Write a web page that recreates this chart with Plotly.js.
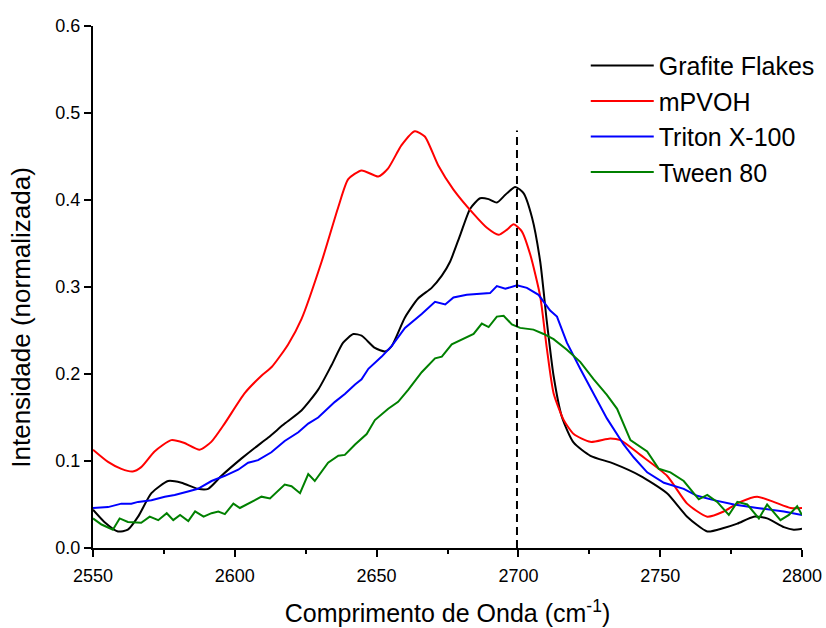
<!DOCTYPE html>
<html>
<head>
<meta charset="utf-8">
<script src="https://cdn.plot.ly/plotly-3.0.1.min.js"></script>
<style>html,body{margin:0;padding:0;background:#fff;}#chart{width:826px;height:628px;}</style>
</head>
<body>
<div id="chart"></div>
<script>
// Grafite Flakes (black)
const grafiteX = [2550,2554,2558.8,2562.3,2565.9,2570.6,2576.5,2581.2,2587,2590.6,2595.3,2602.4,2607,2611.8,2617.6,2623.5,2629.4,2634.1,2638.2,2641.8,2644.7,2649.4,2653,2655.3,2660,2664.7,2669.4,2673,2675.9,2679.5,2683,2686.5,2689.5,2692.4,2695.4,2698.9,2701.8,2704.8,2707.7,2710,2712.4,2715.4,2719.5,2725.4,2733.6,2743,2752.4,2759.5,2766.6,2772.4,2777.2,2783,2787.7,2793.6,2797.1,2800];
const grafiteY = [0.044,0.030,0.019,0.021,0.036,0.063,0.077,0.075,0.068,0.068,0.083,0.103,0.115,0.127,0.143,0.158,0.182,0.210,0.236,0.246,0.244,0.230,0.226,0.232,0.265,0.287,0.299,0.313,0.329,0.360,0.390,0.402,0.401,0.397,0.406,0.415,0.408,0.380,0.329,0.261,0.198,0.150,0.121,0.106,0.097,0.083,0.063,0.036,0.019,0.023,0.028,0.036,0.034,0.024,0.021,0.022];

// mPVOH (red)
const mpvohX = [2550,2555.3,2560,2564,2567,2571.7,2577.6,2582,2587.6,2591.7,2596.4,2603.5,2609.4,2613,2618.8,2623.5,2630.6,2636.5,2640,2644.7,2650.6,2654,2658.8,2663.5,2667,2671.7,2677.1,2684.2,2688.9,2693,2696,2698.3,2701.2,2704.2,2707.7,2710,2712.4,2716,2719.5,2725.4,2732.4,2736,2743,2752.4,2759.5,2766.6,2772.4,2778.3,2784.2,2790,2796,2800];
const mpvohY = [0.113,0.099,0.091,0.088,0.093,0.111,0.124,0.121,0.113,0.122,0.143,0.178,0.198,0.208,0.234,0.263,0.329,0.392,0.424,0.434,0.427,0.436,0.463,0.479,0.473,0.440,0.412,0.384,0.368,0.360,0.366,0.372,0.364,0.337,0.289,0.230,0.178,0.147,0.131,0.122,0.126,0.124,0.107,0.083,0.051,0.036,0.042,0.053,0.059,0.053,0.046,0.046];

// Triton X-100 (blue)
const tritonX = [2550,2555.3,2560,2563.5,2565.9,2570.6,2575.3,2578.8,2583.5,2587,2591.8,2596.5,2601.2,2604.7,2608.2,2612.9,2617.6,2622.4,2625.9,2629.4,2635.3,2638.8,2642.4,2644.7,2647.1,2651.8,2655.3,2660,2665.9,2670.6,2674.2,2677.1,2681.8,2690,2692.4,2695.4,2699.5,2703,2707.1,2711.2,2713.6,2717.1,2721.8,2726.5,2731.2,2737.1,2740.7,2745.4,2751.3,2758.3,2763,2768.9,2776,2784.2,2793.6,2800];
const tritonY = [0.046,0.047,0.051,0.051,0.053,0.055,0.059,0.061,0.065,0.068,0.077,0.083,0.090,0.098,0.101,0.110,0.123,0.133,0.143,0.150,0.168,0.177,0.188,0.194,0.206,0.220,0.232,0.253,0.269,0.283,0.280,0.288,0.291,0.293,0.301,0.298,0.302,0.299,0.291,0.273,0.266,0.236,0.206,0.178,0.149,0.119,0.104,0.087,0.075,0.068,0.060,0.055,0.050,0.046,0.042,0.038];

// Tween 80 (green)
const tweenX = [2550,2553,2557,2559.4,2562.3,2567,2570,2573,2576,2578.3,2580.7,2583.6,2586,2589,2591.8,2594.2,2596.5,2599.5,2601.8,2604.7,2609.4,2612.4,2617.6,2620,2623,2625.9,2628.2,2632.9,2636.5,2638.8,2642.4,2646.5,2649.4,2654.1,2657.6,2661.2,2665.9,2670.6,2673,2676.5,2680.6,2684.2,2687.1,2689.5,2692.4,2694.8,2697.7,2700.6,2705.3,2708.9,2712.4,2717.1,2721.8,2726.5,2731.2,2734.8,2739.5,2745.4,2749.5,2753.6,2758.3,2763.6,2766.6,2770.1,2774.2,2777.2,2780.7,2784.8,2787.7,2792.4,2795.4,2798.3,2800];
const tweenY = [0.034,0.027,0.021,0.034,0.030,0.029,0.036,0.032,0.040,0.032,0.038,0.031,0.042,0.036,0.040,0.042,0.039,0.051,0.046,0.051,0.059,0.057,0.073,0.071,0.063,0.085,0.077,0.098,0.106,0.107,0.119,0.131,0.147,0.160,0.168,0.182,0.202,0.218,0.220,0.234,0.240,0.246,0.258,0.254,0.266,0.267,0.257,0.253,0.251,0.246,0.240,0.228,0.214,0.194,0.176,0.160,0.124,0.111,0.091,0.087,0.077,0.056,0.061,0.053,0.038,0.053,0.050,0.034,0.050,0.032,0.038,0.048,0.038];

// dashed reference line
const refLineX = [2699.5, 2699.5];
const refLineY = [0, 0.48];

const seriesNames = ["Grafite Flakes", "mPVOH", "Triton X-100", "Tween 80"];
const seriesColors = ["#000000", "#ff0000", "#0000ff", "#008000"];
const xTicks = [2550, 2600, 2650, 2700, 2750, 2800];
const yTicks = [0, 0.1, 0.2, 0.3, 0.4, 0.5, 0.6];
const xTitle = "Comprimento de Onda (cm<sup>-1</sup>)";
const yTitle = "Intensidade (normalizada)";

const traces = [
  {x: grafiteX, y: grafiteY, name: seriesNames[0], mode: "lines", line: {color: seriesColors[0], width: 2, shape: "spline", smoothing: 0.6}},
  {x: mpvohX, y: mpvohY, name: seriesNames[1], mode: "lines", line: {color: seriesColors[1], width: 2, shape: "spline", smoothing: 0.6}},
  {x: tritonX, y: tritonY, name: seriesNames[2], mode: "lines", line: {color: seriesColors[2], width: 2}},
  {x: tweenX, y: tweenY, name: seriesNames[3], mode: "lines", line: {color: seriesColors[3], width: 2}},
  {x: refLineX, y: refLineY, mode: "lines", showlegend: false, hoverinfo: "skip", line: {color: "#000", width: 2, dash: "8px,5px"}}
];

const font = "Arial, 'Liberation Sans', sans-serif";
const layout = {
  width: 826, height: 628,
  margin: {l: 93, r: 24, t: 26, b: 80, autoexpand: false},
  paper_bgcolor: "#fff", plot_bgcolor: "#fff",
  font: {family: font, color: "#000"},
  showlegend: true,
  legend: {x: 0.695, y: 0.968, xanchor: "left", yanchor: "top", bgcolor: "rgba(0,0,0,0)", font: {size: 25, family: font}, itemwidth: 63, tracegroupgap: 0},
  xaxis: {
    range: [2550, 2800], tickvals: xTicks,
    ticks: "outside", ticklen: 7, tickwidth: 2, tickcolor: "#000",
    showline: true, linecolor: "#000", linewidth: 2, showgrid: false, zeroline: false,
    tickfont: {size: 18, family: font}, ticklabelstandoff: 3,
    minor: {dtick: 25, tick0: 2550, ticks: "outside", ticklen: 4, tickwidth: 2, tickcolor: "#000", showgrid: false},
    title: {text: xTitle, font: {size: 25, family: font}, standoff: 20}
  },
  yaxis: {
    range: [0, 0.6], tickvals: yTicks, tickformat: ".1f",
    ticks: "outside", ticklen: 7, tickwidth: 2, tickcolor: "#000",
    showline: true, linecolor: "#000", linewidth: 2, showgrid: false, zeroline: false,
    tickfont: {size: 18, family: font}
  },
  annotations: [
    {text: yTitle, xref: "paper", yref: "paper", x: -0.1016, y: 0.443, xanchor: "center", yanchor: "middle", textangle: -90, showarrow: false, font: {size: 26, family: font}}
  ]
};

Plotly.newPlot("chart", traces, layout, {displayModeBar: false, staticPlot: true});
</script>
</body>
</html>
